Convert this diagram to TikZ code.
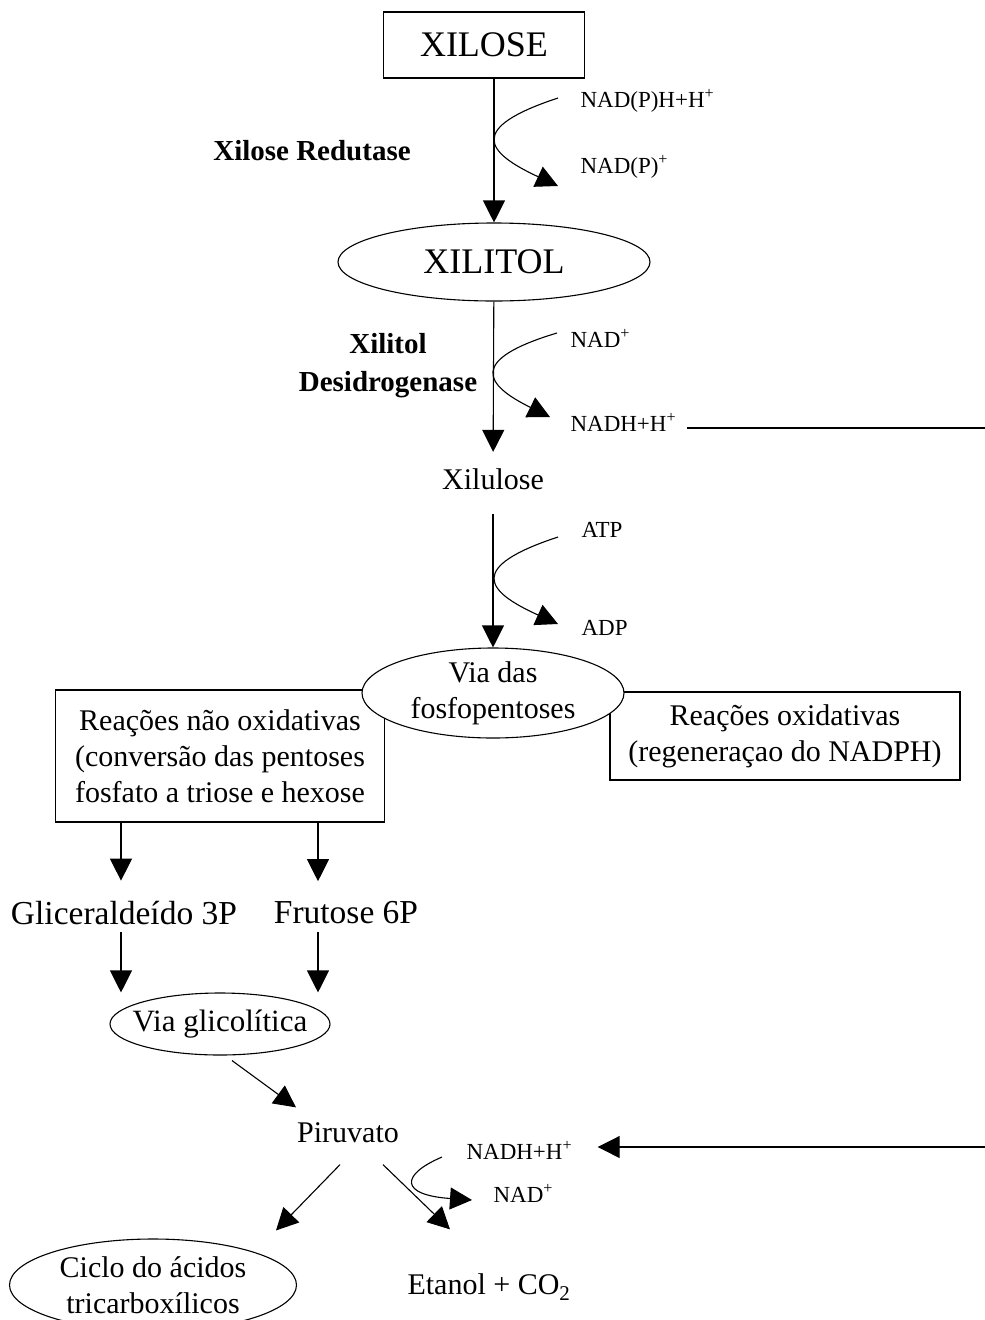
\documentclass[tikz,border=0pt]{standalone}
\usepackage{fontspec}
\setmainfont{Liberation Serif}
\usetikzlibrary{arrows.meta,shapes.geometric}
\begin{document}
\begin{tikzpicture}[x=1pt, y=-1pt, line width=1.1pt, >={Triangle[width=22pt,length=22pt]},
		every node/.style={inner sep=0pt, align=center, font=\fontsize{30}{36}\selectfont},
		big/.style={font=\fontsize{36}{40}\selectfont},
		wide/.style={font=\fontsize{33.5}{38}\selectfont},
		small/.style={anchor=west, font=\fontsize{23}{26}\selectfont},
		enz/.style={font=\fontsize{29}{38}\selectfont\bfseries},
		oval/.style={draw, ellipse, fill=white}]
		\useasboundingbox (0,0) rectangle (985,1320);
		
		\node[draw, big, minimum width=201pt, minimum height=66pt] (xilose) at (484,45) {XILOSE};
		\node[oval, big, minimum width=312pt, minimum height=78pt] (xilitol) at (494,262) {XILITOL};
		\node (xilulose) at (493,479) {Xilulose};
		\node[draw, minimum width=329pt, minimum height=132pt] (naoox) at (220,756) {Reações não oxidativas\\(conversão das pentoses\\fosfato a triose e hexose};
		\node[draw, minimum width=350pt, minimum height=88pt] (ox) at (785,736) {Reações oxidativas\\(regeneraçao do NADPH)};
		\node[oval, minimum width=262pt, minimum height=90pt] (via) at (493,693) {Via das\\fosfopentoses};
		\node[wide] (gli) at (124,913) {Gliceraldeído 3P};
		\node[wide] (fru) at (346,913) {Frutose 6P};
		\node[oval, inner sep=-23pt, minimum width=220pt, minimum height=62pt, font=\fontsize{31}{36}\selectfont] (glic) at (220,1024) {Via glicolítica};
		\node (piru) at (348,1133) {Piruvato};
		\node[oval, minimum width=287pt, minimum height=92pt] (ciclo) at (153,1285) {Ciclo do ácidos\\tricarboxílicos};
		\node (etanol) at (489,1287) {Etanol + CO\textsubscript{2}};
		
		\node[enz] (xr) at (312,151) {Xilose Redutase};
		\node[enz] (xdh) at (388,366) {Xilitol\\Desidrogenase};
		
		\node[small] (nadph) at (580,101) {NAD(P)H+H\textsuperscript{+}};
		\node[small] (nadp) at (580,167) {NAD(P)\textsuperscript{+}};
		\node[small] (nad) at (570,338) {NAD\textsuperscript{+}};
		\node[small] (nadh) at (570,422) {NADH+H\textsuperscript{+}};
		\node[small] (atp) at (581,530) {ATP};
		\node[small] (adp) at (581,628) {ADP};
		\node[small] (nadhb) at (466,1150) {NADH+H\textsuperscript{+}};
		\node[small] (nadb) at (493,1193) {NAD\textsuperscript{+}};
		
		\coordinate (c1a) at (558,98);
		\coordinate (c1b) at (558,186);
		\coordinate (c2a) at (557,333);
		\coordinate (c2b) at (550,417);
		\coordinate (c3a) at (558,537);
		\coordinate (c3b) at (558,624);
		\coordinate (c4a) at (442,1157);
		\coordinate (c4b) at (472,1200);
		\coordinate (edgeA) at (985,428);
		\coordinate (edgeB) at (985,1147);
		
		\draw[->] (xilose.south -| xilitol.north) -- (xilitol.north);
		\draw[->, shorten >=16pt] (xilitol) -- (xilulose);
		\draw[->, shorten <=24pt] (xilulose) -- (via);
		\draw[->] (c1a) .. controls (467,128) and (485,152) .. (c1b);
		\draw[->] (c2a) .. controls (467,360) and (485,385) .. (c2b);
		\draw[->] (c3a) .. controls (467,567) and (485,591) .. (c3b);
		\draw[->] (c4a) .. controls (400,1175) and (400,1195) .. (c4b);
		
		\draw[->] ([xshift=-3pt]gli.north |- naoox.south) -- ([xshift=-3pt,yshift=20pt]gli.north);
		\draw[->] ([xshift=-28pt]fru.north |- naoox.south) -- ([xshift=-28pt,yshift=20pt]fru.north);
		\draw[->] ([xshift=-3pt,yshift=-7pt]gli.south) -- ([xshift=-3pt]gli.south |- glic.north);
		\draw[->] ([xshift=-28pt,yshift=-7pt]fru.south) -- ([xshift=-28pt]fru.south |- glic.north);
		\draw[->] ([xshift=12pt,yshift=-5pt]glic.south) -- ([xshift=-52pt,yshift=15pt]piru.north);
		\draw[->] ([xshift=-8pt,yshift=-21pt]piru.south) -- ([xshift=123pt,yshift=8pt]ciclo.north);
		\draw[->] ([xshift=35pt,yshift=-21pt]piru.south) -- ([xshift=-39pt,yshift=44pt]etanol.north);
		
		\draw[shorten >=10pt] (edgeA) -- (edgeA -| nadh.east);
		\draw[->, shorten >=25pt] (edgeB) -- (edgeB -| nadhb.east);
	\end{tikzpicture}
\end{document}
